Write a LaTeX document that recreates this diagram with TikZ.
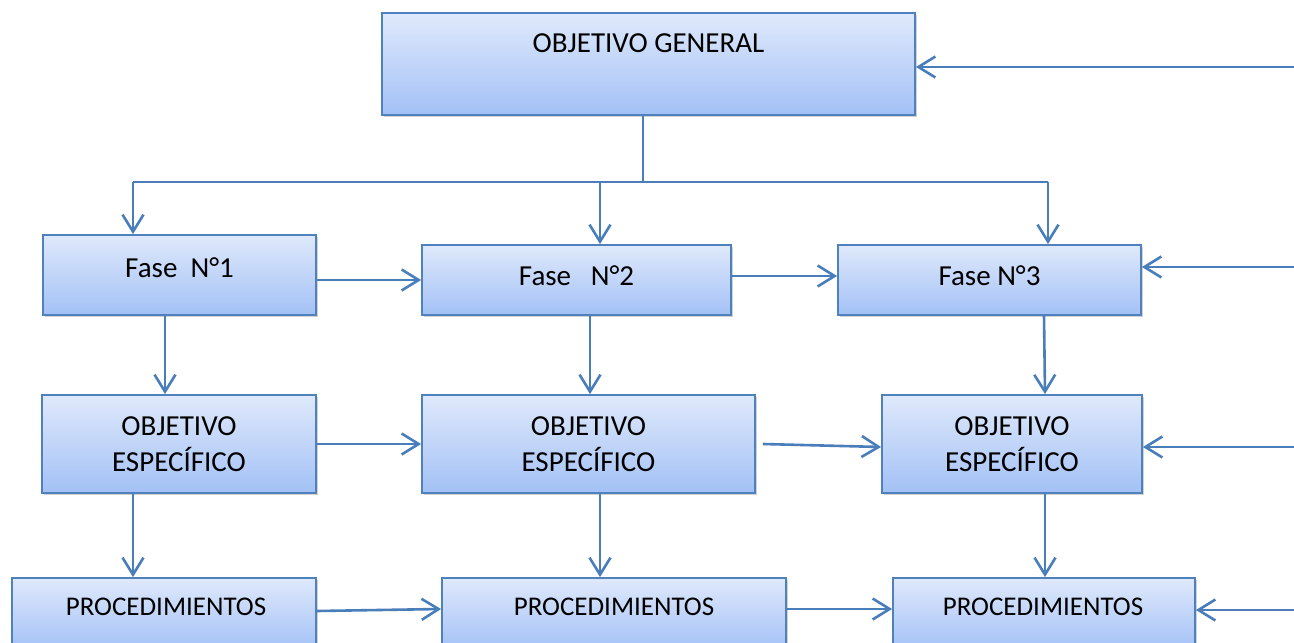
\documentclass[tikz,border=0pt]{standalone}
\usepackage{fontspec}
\setmainfont{Carlito}
\usetikzlibrary{arrows.meta,shadows}
\definecolor{boxtop}{HTML}{DFE9FB}
\definecolor{boxbot}{HTML}{A3C1F6}
\definecolor{boxline}{HTML}{4F81BD}
\definecolor{conn}{HTML}{4A7EBB}
\tikzset{
  box/.style={draw=boxline, line width=0.9pt, top color=boxtop, bottom color=boxbot,
    drop shadow={opacity=0.35, shadow xshift=1.2pt, shadow yshift=-1.2pt},
    inner sep=0pt, align=center, font=\fontsize{14.5}{17.7}\selectfont},
  txt/.style={inner sep=0pt, font=\fontsize{14.5}{17.7}\selectfont},
  ptxt/.style={inner sep=0pt, font=\fontsize{13.5}{16.5}\selectfont},
  conline/.style={draw=conn, line width=1.3pt},
  arr/.style={conline, -{Straight Barb[length=8.5pt,width=10.5pt,line width=1.3pt]}}
}
\begin{document}
\begin{tikzpicture}[x=0.5pt,y=-0.5pt]
\useasboundingbox[fill=white] (0,0) rectangle (1294,642);
\clip (0,0) rectangle (1294,642);
% boxes
\node[box, minimum width=266.5pt, minimum height=51pt] (og) at (648.5,64) {};
\node[txt] (ogt) at (648.5,43) {OBJETIVO GENERAL};
\node[box, minimum width=136.5pt, minimum height=40pt] (f1) at (179.5,275) {};
\node[txt] (f1t) at (179.5,268) {Fase\ \ N°1};
\node[box, minimum width=154.5pt, minimum height=35pt] (f2) at (576.5,280) {};
\node[txt] (f2t) at (576.5,276) {Fase\ \ \ N°2};
\node[box, minimum width=151.5pt, minimum height=35pt] (f3) at (989.5,280) {};
\node[txt] (f3t) at (989.5,276) {Fase N°3};
\node[box, minimum width=137pt, minimum height=49pt] (oe1) at (179,444) {OBJETIVO\\ESPECÍFICO};
\node[box, minimum width=166.5pt, minimum height=49pt] (oe2) at (588.5,444) {OBJETIVO\\ESPECÍFICO};
\node[box, minimum width=130pt, minimum height=49pt] (oe3) at (1012,444) {OBJETIVO\\ESPECÍFICO};
\node[box, minimum width=152pt, minimum height=36pt] (p1) at (164,614) {};
\node[ptxt] (p1t) at (166,607) {PROCEDIMIENTOS};
\node[box, minimum width=172pt, minimum height=36pt] (p2) at (614,614) {};
\node[ptxt] (p2t) at (614,607) {PROCEDIMIENTOS};
\node[box, minimum width=151pt, minimum height=36pt] (p3) at (1044,614) {};
\node[ptxt] (p3t) at (1043,607) {PROCEDIMIENTOS};
% coordinates
\coordinate (split) at (643,182);
\coordinate (b1) at (133,182);
\coordinate (b2) at (600,182);
\coordinate (b3) at (1048,182);
\coordinate (r0) at (1294,67);
\coordinate (r1) at (1294,267);
\coordinate (r2) at (1294,447);
\coordinate (r3) at (1294,610);
% top bus
\draw[conline] (split |- og.south) -- (split);
\draw[conline] (b1) -- (b3);
\draw[arr] (b1) -- (b1 |- f1.north);
\draw[arr] (b2) -- (b2 |- f2.north);
\draw[arr] (b3) -- (b3 |- f3.north);
\draw[arr] (r0) -- (r0 -| og.east);
% phase row
\draw[arr] (f1.east |- f2.west) -- (f2.west);
\draw[arr] ([yshift=2pt]f2.east) -- ([yshift=2pt]f3.west);
\draw[arr] (r1) -- (r1 -| f3.east);
% down arrows
\draw[arr] ([xshift=-7.25pt]f1.south) -- ([xshift=-7.25pt]f1.south |- oe1.north);
\draw[arr] ([xshift=6.75pt]f2.south) -- ([xshift=6.75pt]f2.south |- oe2.north);
\draw[arr] ([xshift=27.25pt]f3.south) -- ([xshift=27.75pt]f3.south |- oe3.north);
% objective row
\draw[arr] (oe1.east) -- (oe2.west);
\draw[arr] ([xshift=3.5pt]oe2.east) -- ([yshift=-1.5pt]oe3.west);
\draw[arr] (r2) -- (r2 -| oe3.east);
% down arrows to procedures
\draw[arr] ([xshift=-23pt]oe1.south) -- ([xshift=-23pt]oe1.south |- p1.north);
\draw[arr] ([xshift=5.75pt]oe2.south) -- ([xshift=5.75pt]oe2.south |- p2.north);
\draw[arr] ([xshift=16.5pt]oe3.south) -- ([xshift=16.5pt]oe3.south |- p3.north);
% procedures row
\draw[arr] ([yshift=1.5pt]p1.east) -- ([yshift=2.5pt]p2.west);
\draw[arr] ([yshift=2.5pt]p2.east) -- ([yshift=2.5pt]p3.west);
\draw[arr] (r3) -- (r3 -| p3.east);
\end{tikzpicture}
\end{document}
